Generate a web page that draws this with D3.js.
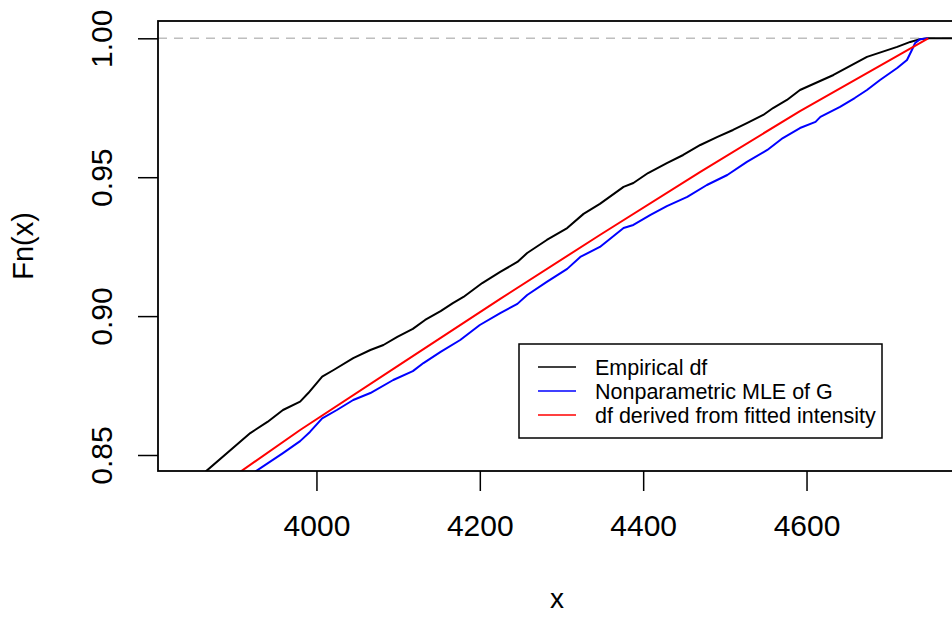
<!DOCTYPE html>
<html>
<head>
<meta charset="utf-8">
<script src="https://cdn.jsdelivr.net/npm/d3@7"></script>
<style>
  body { margin: 0; background: #fff; }
  text { font-family: "Liberation Sans", Arial, sans-serif; }
</style>
</head>
<body>
<div id="chart"></div>
<script>
// Empirical df (step function)
const empX = [3852, 3865, 3919, 3940, 3959, 3980, 3990, 4007, 4021, 4045, 4066, 4082, 4099, 4118, 4133,
  4152, 4167, 4180, 4203, 4225, 4246, 4258, 4282, 4307, 4327, 4347, 4376, 4388, 4406, 4429, 4449,
  4470, 4491, 4510, 4527, 4547, 4559, 4576, 4592, 4633, 4674, 4711, 4727, 4739, 4749, 4790];
const empY = [0.8410, 0.8442, 0.8579, 0.8619, 0.8662, 0.8692, 0.8723, 0.8782, 0.8806, 0.8849, 0.8878, 0.8896, 0.8925, 0.8954, 0.8986,
  0.9018, 0.9047, 0.9069, 0.9119, 0.9159, 0.9195, 0.9227, 0.9274, 0.9317, 0.9368, 0.9404, 0.9465, 0.9479, 0.9515, 0.9551, 0.9580,
  0.9616, 0.9645, 0.9670, 0.9695, 0.9724, 0.9749, 0.9778, 0.9814, 0.9868, 0.9933, 0.9969, 0.9987, 0.9997, 1.0000, 1.0000];

// Nonparametric MLE of G
const mleX = [3919, 3926, 3959, 3980, 3992, 4007, 4025, 4045, 4066, 4094, 4118, 4131, 4152, 4176, 4200,
  4225, 4246, 4258, 4282, 4307, 4323, 4347, 4376, 4388, 4409, 4429, 4454, 4478, 4503, 4527, 4552,
  4571, 4592, 4611, 4617, 4641, 4659, 4674, 4690, 4711, 4723, 4729, 4733, 4739, 4749];
const mleY = [0.8428, 0.8442, 0.8507, 0.8550, 0.8583, 0.8632, 0.8662, 0.8698, 0.8723, 0.8770, 0.8802, 0.8831, 0.8871, 0.8914, 0.8968,
  0.9011, 0.9044, 0.9076, 0.9123, 0.9170, 0.9213, 0.9249, 0.9317, 0.9328, 0.9364, 0.9396, 0.9429, 0.9472, 0.9508, 0.9555, 0.9598,
  0.9641, 0.9677, 0.9699, 0.9717, 0.9753, 0.9785, 0.9814, 0.9850, 0.9893, 0.9922, 0.9958, 0.9983, 0.9997, 1.0000];

// df derived from fitted intensity
const fitX = [3894, 3908, 3980, 4103, 4225, 4347, 4470, 4592, 4715, 4749];
const fitY = [0.8414, 0.8442, 0.8590, 0.8827, 0.9062, 0.9292, 0.9519, 0.9738, 0.9943, 1.0000];

const xTicks = [4000, 4200, 4400, 4600];
const yTicks = [0.85, 0.90, 0.95, 1.00];
const legendLabels = ["Empirical df", "Nonparametric MLE of G", "df derived from fitted intensity"];
const legendColors = ["#000000", "#0000ff", "#ff0000"];

const width = 952, height = 619;
const pLeft = 158, pRight = 956, pTop = 21, pBottom = 471;

const svg = d3.select("#chart").append("svg")
    .attr("width", width)
    .attr("height", height);

const x = d3.scaleLinear().domain([3806, 4783]).range([pLeft, pRight]);
const y = d3.scaleLinear().domain([0.84424, 1.00623]).range([pBottom, pTop]);

svg.append("clipPath").attr("id", "plotclip")
  .append("rect")
    .attr("x", pLeft).attr("y", pTop)
    .attr("width", pRight - pLeft).attr("height", pBottom - pTop);

const plot = svg.append("g").attr("clip-path", "url(#plotclip)");

// horizontal reference line at 1
plot.append("line")
    .attr("x1", pLeft).attr("x2", pRight)
    .attr("y1", y(1)).attr("y2", y(1))
    .attr("stroke", "#bebebe")
    .attr("stroke-width", 1.5)
    .attr("stroke-dasharray", "9,7");

const line = d3.line()
    .x(d => x(d[0]))
    .y(d => y(d[1]));

const series = [
  { xs: empX, ys: empY, color: legendColors[0] },
  { xs: mleX, ys: mleY, color: legendColors[1] },
  { xs: fitX, ys: fitY, color: legendColors[2] }
];

series.forEach(s => {
  plot.append("path")
      .datum(s.xs.map((v, i) => [v, s.ys[i]]))
      .attr("fill", "none")
      .attr("stroke", s.color)
      .attr("stroke-width", 2)
      .attr("stroke-linejoin", "round")
      .attr("d", line);
});

// box
svg.append("rect")
    .attr("x", pLeft).attr("y", pTop)
    .attr("width", pRight - pLeft).attr("height", pBottom - pTop)
    .attr("fill", "none")
    .attr("stroke", "#000")
    .attr("stroke-width", 1.8);

// x axis
const xAxis = svg.append("g")
    .attr("transform", `translate(0,${pBottom})`)
    .call(d3.axisBottom(x).tickValues(xTicks).tickSize(20).tickPadding(24).tickFormat(d3.format("d")));
xAxis.select(".domain").remove();
xAxis.selectAll("line").attr("stroke-width", 1.5);
xAxis.selectAll("text")
    .style("font-size", "30px")
    .attr("fill", "#000")
    .style("font-family", "'Liberation Sans', Arial, sans-serif");

// y axis, labels rotated like base R
const yAxis = svg.append("g")
    .attr("transform", `translate(${pLeft},0)`)
    .call(d3.axisLeft(y).tickValues(yTicks).tickSize(20).tickFormat(d3.format(".2f")));
yAxis.select(".domain").remove();
yAxis.selectAll("line").attr("stroke-width", 1.5);
yAxis.selectAll("text")
    .attr("x", null).attr("dy", null)
    .attr("transform", "translate(-46,0) rotate(-90)")
    .attr("text-anchor", "middle")
    .attr("fill", "#000")
    .style("font-size", "30px")
    .style("font-family", "'Liberation Sans', Arial, sans-serif");

// axis titles
svg.append("text")
    .attr("x", (pLeft + pRight) / 2)
    .attr("y", 608)
    .attr("text-anchor", "middle")
    .style("font-size", "28px")
    .text("x");

svg.append("text")
    .attr("transform", `translate(33,${(pTop + pBottom) / 2}) rotate(-90)`)
    .attr("text-anchor", "middle")
    .style("font-size", "29px")
    .text("Fn(x)");

// legend
const lg = svg.append("g").attr("transform", "translate(519,344)");
lg.append("rect")
    .attr("width", 363).attr("height", 94)
    .attr("fill", "#fff")
    .attr("stroke", "#000")
    .attr("stroke-width", 1.5);

legendLabels.forEach((lab, i) => {
  const ry = 23 + i * 24;
  lg.append("line")
      .attr("x1", 19).attr("x2", 57)
      .attr("y1", ry).attr("y2", ry)
      .attr("stroke", legendColors[i])
      .attr("stroke-width", 1.5);
  lg.append("text")
      .attr("x", 76).attr("y", ry + 8)
      .style("font-size", "21.5px")
      .text(lab);
});
</script>
</body>
</html>
